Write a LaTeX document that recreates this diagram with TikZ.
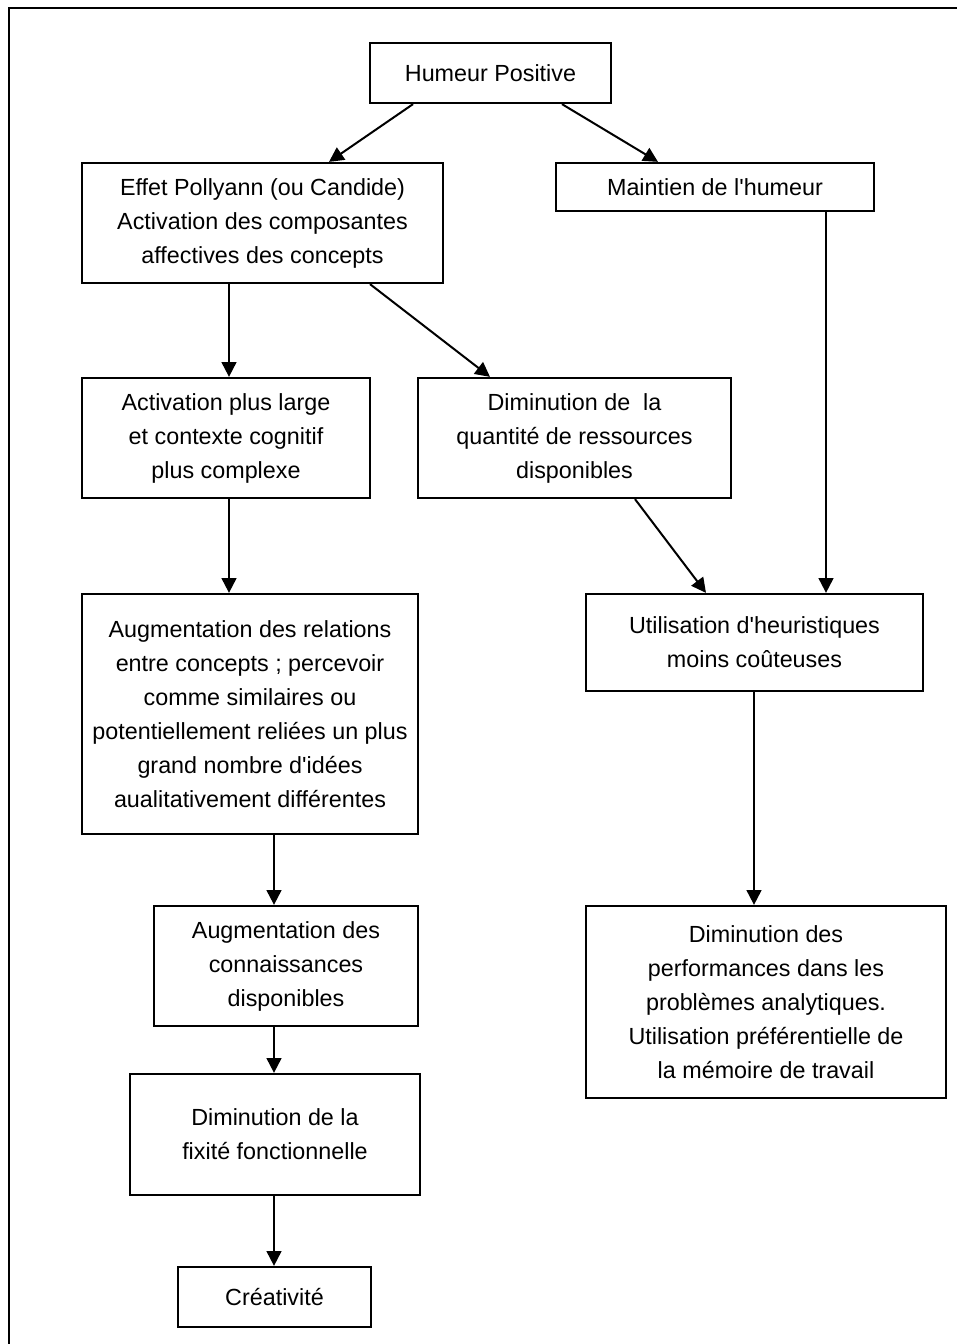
\documentclass[tikz,border=0pt]{standalone}
\usepackage{fontspec}
\setmainfont{Liberation Sans}[Ligatures=TeXOff]
\usetikzlibrary{arrows.meta}
\begin{document}
\begin{tikzpicture}[x=0.75pt,y=-0.75pt,
  box/.style={draw, line width=1.7pt, align=center, inner sep=0pt,
    font=\fontsize{17.5}{25.5}\selectfont},
  arr/.style={line width=1.5pt, -{Triangle[length=11pt,width=11pt]}},
  frame/.style={line width=2pt}]
\useasboundingbox (0,0) rectangle (957,1344);
\draw[frame] (9,1344) -- (9,8) -- (957,8);

\node[box, minimum width=241*0.75pt, minimum height=60*0.75pt] (hp) at (490.5,73) {Humeur Positive};
\node[box, minimum width=361*0.75pt, minimum height=120*0.75pt] (ef) at (262.5,223) {Effet Pollyann (ou Candide)\\Activation des composantes\\affectives des concepts};
\node[box, minimum width=318*0.75pt, minimum height=48*0.75pt] (mh) at (715,187) {Maintien de l'humeur};
\node[box, minimum width=288*0.75pt, minimum height=120*0.75pt] (apl) at (226,438) {Activation plus large\\et contexte cognitif\\plus complexe};
\node[box, minimum width=313*0.75pt, minimum height=120*0.75pt] (dq) at (574.5,438) {Diminution de\ \ la\\quantité de ressources\\disponibles};
\node[box, minimum width=336*0.75pt, minimum height=240*0.75pt] (ar) at (250,714) {Augmentation des relations\\entre concepts ; percevoir\\comme similaires ou\\potentiellement reliées un plus\\grand nombre d'idées\\aualitativement différentes};
\node[box, minimum width=337*0.75pt, minimum height=97*0.75pt] (uh) at (754.5,642.5) {Utilisation d'heuristiques\\moins coûteuses};
\node[box, minimum width=264*0.75pt, minimum height=120*0.75pt] (ac) at (286,966) {Augmentation des\\connaissances\\disponibles};
\node[box, minimum width=360*0.75pt, minimum height=192*0.75pt] (dp) at (766,1002) {Diminution des\\performances dans les\\problèmes analytiques.\\Utilisation préférentielle de\\la mémoire de travail};
\node[box, minimum width=290*0.75pt, minimum height=121*0.75pt] (df) at (275,1134.5) {Diminution de la\\fixité fonctionnelle};
\node[box, minimum width=193*0.75pt, minimum height=60*0.75pt] (cr) at (274.5,1297) {Créativité};

\coordinate (xa1) at (413,0);
\coordinate (xa2) at (329,0);
\coordinate (xb1) at (562,0);
\coordinate (xb2) at (658,0);
\coordinate (xc) at (229,0);
\coordinate (xd1) at (370,0);
\coordinate (xd2) at (490,0);
\coordinate (xe) at (826,0);
\coordinate (xf1) at (635,0);
\coordinate (xf2) at (706,0);
\coordinate (xg) at (274,0);
\coordinate (xh) at (754,0);

\draw[arr] (hp.south -| xa1) -- (ef.north -| xa2);
\draw[arr] (hp.south -| xb1) -- (mh.north -| xb2);
\draw[arr] (ef.south -| xc) -- (apl.north -| xc);
\draw[arr] (ef.south -| xd1) -- (dq.north -| xd2);
\draw[arr] (mh.south -| xe) -- (uh.north -| xe);
\draw[arr] (dq.south -| xf1) -- (uh.north -| xf2);
\draw[arr] (apl.south -| xc) -- (ar.north -| xc);
\draw[arr] (ar.south -| xg) -- (ac.north -| xg);
\draw[arr] (uh.south -| xh) -- (dp.north -| xh);
\draw[arr] (ac.south -| xg) -- (df.north -| xg);
\draw[arr] (df.south -| xg) -- (cr.north -| xg);
\end{tikzpicture}
\end{document}
